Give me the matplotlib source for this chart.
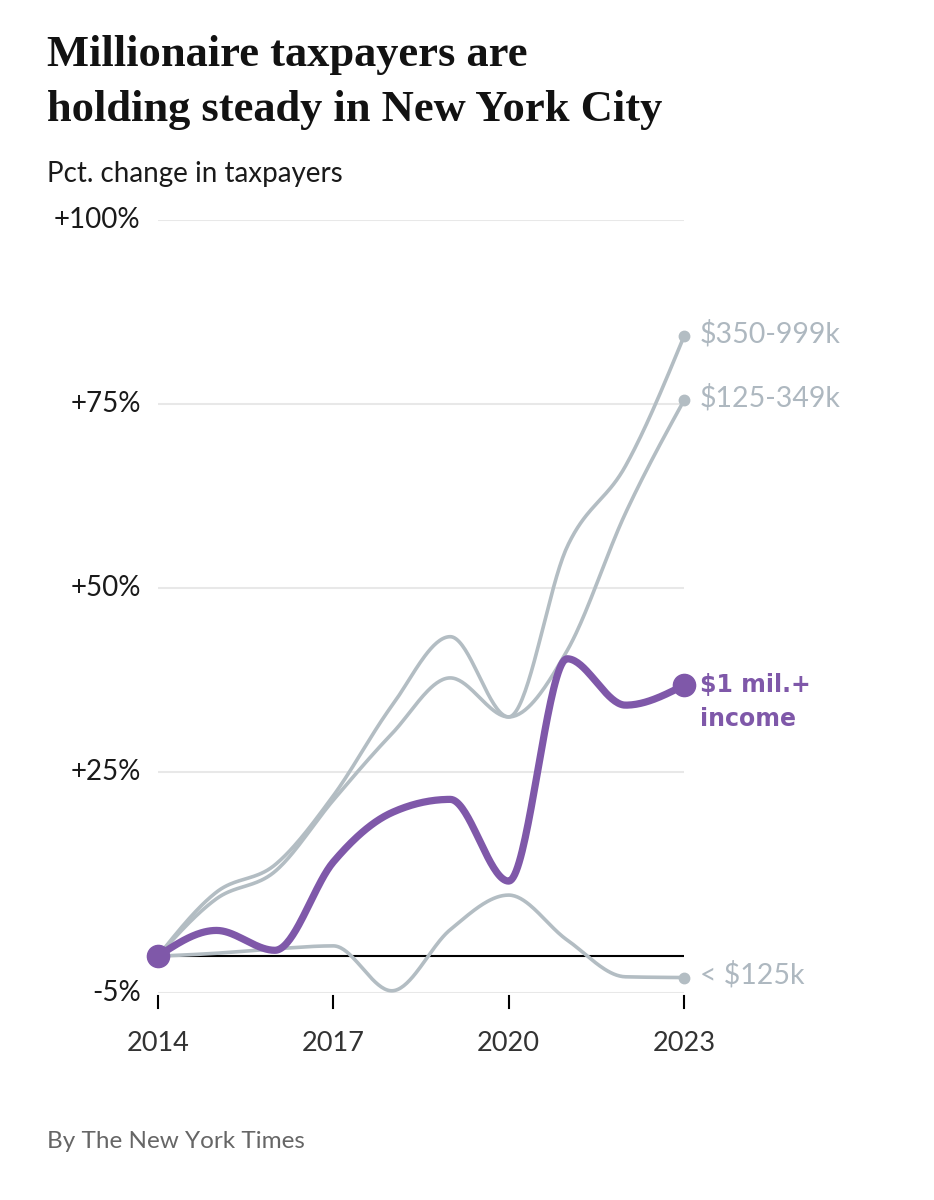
import numpy as np
import matplotlib
matplotlib.use("Agg")
import matplotlib.pyplot as plt

# values (pct. change vs 2014)
years = [2014, 2015, 2016, 2017, 2018, 2019, 2020, 2021, 2022, 2023]
mil_plus = [0, 3.5, 0.8, 12.8, 19.5, 21.3, 10.2, 40.4, 34.1, 36.8]
k350_999 = [0, 8.7, 12.4, 21.8, 34.0, 43.4, 32.5, 55.6, 66.6, 84.2]
k125_349 = [0, 7.8, 11.5, 21.2, 30.2, 37.8, 32.5, 41.5, 60.2, 75.5]
under125 = [0, 0.4, 1.0, 1.4, -4.7, 3.6, 8.3, 2.2, -2.8, -2.9]

yticks = [-5, 25, 50, 75, 100]
ytick_labels = ['-5%', '+25%', '+50%', '+75%', '+100%']
xticks = [2014, 2017, 2020, 2023]

purple = '#7f58a9'
gray = '#b3bdc3'
label_gray = '#aeb8c0'


def monotone(x, y, n=40):
    # d3 curveMonotoneX style hermite curve
    x = np.asarray(x, float)
    y = np.asarray(y, float)
    h = np.diff(x)
    s = np.diff(y) / h
    m = np.zeros(len(x))
    for i in range(1, len(x) - 1):
        p = (s[i - 1] * h[i] + s[i] * h[i - 1]) / (h[i - 1] + h[i])
        m[i] = (np.sign(s[i - 1]) + np.sign(s[i])) * min(abs(s[i - 1]), abs(s[i]), 0.5 * abs(p))
    m[0] = (3 * s[0] - m[1]) / 2
    m[-1] = (3 * s[-1] - m[-2]) / 2
    xs, ys = [], []
    for i in range(len(x) - 1):
        t = np.linspace(0, 1, n)
        h00 = 2 * t**3 - 3 * t**2 + 1
        h10 = t**3 - 2 * t**2 + t
        h01 = -2 * t**3 + 3 * t**2
        h11 = t**3 - t**2
        xs.append(x[i] + t * h[i])
        ys.append(h00 * y[i] + h10 * h[i] * m[i] + h01 * y[i + 1] + h11 * h[i] * m[i + 1])
    return np.concatenate(xs), np.concatenate(ys)


fig = plt.figure(figsize=(9.34, 12), dpi=100)
ax = fig.add_axes([158 / 934, 1 - 993 / 1200, 526 / 934, 773 / 1200])
ax.set_xlim(2014, 2023)
ax.set_ylim(-5, 100)
ax.axis('off')

for v in yticks:
    ax.axhline(v, color='#e8e8e8', lw=1.5, zorder=0)
ax.axhline(0, color='black', lw=1.5, zorder=1)

for v, lab in zip(yticks, ytick_labels):
    ax.text(-0.033, (v + 5) / 105, lab, transform=ax.transAxes, ha='right', va='center',
            fontsize=20, family='Lato', color='#1a1a1a')

for xv in xticks:
    ax.plot([xv, xv], [-5.4, -7.0], color='black', lw=1.5, clip_on=False)
    ax.text(xv, -11.8, str(xv), ha='center', va='center', fontsize=19.5,
            family='Lato', color='#333333')

for series, name in [(k350_999, '$350-999k'), (k125_349, '$125-349k'), (under125, '< $125k')]:
    sx, sy = monotone(years, series)
    ax.plot(sx, sy, color=gray, lw=2.6, clip_on=False, zorder=2, solid_capstyle='round')
    ax.plot(years[-1], series[-1], 'o', color=gray, ms=7.5, clip_on=False, zorder=3)
    ax.annotate(name, xy=(years[-1], series[-1]), xytext=(16, 3), textcoords='offset pixels',
                ha='left', va='center', fontsize=20.5, family='Lato', color=label_gray)

sx, sy = monotone(years, mil_plus)
ax.plot(sx, sy, color=purple, lw=5.2, clip_on=False, zorder=4, solid_capstyle='round')
ax.plot([years[0], years[-1]], [mil_plus[0], mil_plus[-1]], 'o', color=purple, ms=16,
        clip_on=False, zorder=5)
ax.annotate('$1 mil.+', xy=(years[-1], mil_plus[-1]), xytext=(16, -7), textcoords='offset pixels',
            ha='left', va='baseline', fontsize=17, fontweight='bold', family='DejaVu Sans',
            color=purple)
ax.annotate('income', xy=(years[-1], mil_plus[-1]), xytext=(16, -41), textcoords='offset pixels',
            ha='left', va='baseline', fontsize=17, fontweight='bold', family='DejaVu Sans',
            color=purple)

fig.text(47 / 934, 1 - 66 / 1200, 'Millionaire taxpayers are', ha='left', va='baseline',
         fontsize=32, fontweight='bold', family='Liberation Serif', color='#121212')
fig.text(47 / 934, 1 - 121 / 1200, 'holding steady in New York City', ha='left', va='baseline',
         fontsize=32, fontweight='bold', family='Liberation Serif', color='#121212')
fig.text(47 / 934, 1 - 182 / 1200, 'Pct. change in taxpayers', ha='left', va='baseline',
         fontsize=20, family='Lato', color='#1a1a1a')
fig.text(47 / 934, 1 - 1148 / 1200, 'By The New York Times', ha='left', va='baseline',
         fontsize=17.5, family='Lato', color='#666666')

fig.savefig('out.png', dpi=100, facecolor='white')
